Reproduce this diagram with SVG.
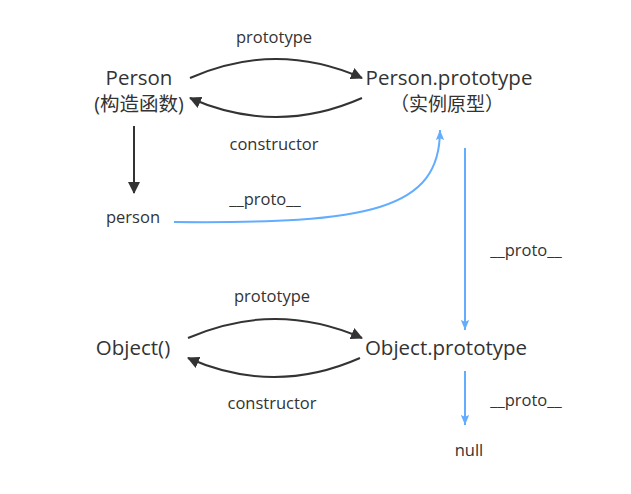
<svg xmlns="http://www.w3.org/2000/svg" width="631" height="494" viewBox="0 0 631 494">
<style>
text{font-family:"Open Sans","Noto Sans CJK SC",sans-serif;fill:#333;text-anchor:middle}
.big{font-size:20.5px}
.sm{font-size:16.5px}
.d{fill:none;stroke:#333;stroke-width:2}
.b{fill:none;stroke:#63adff;stroke-width:2}
</style>
<defs>
<marker id="ad" markerWidth="12" markerHeight="12" refX="11" refY="6" orient="auto" markerUnits="userSpaceOnUse" viewBox="0 0 12 12"><path d="M0,0 L12,6 L0,12 Z" fill="#333"/></marker>
<marker id="ab" markerWidth="10" markerHeight="14" refX="12" refY="5" orient="auto" markerUnits="userSpaceOnUse" viewBox="0 0 12 10"><path d="M0,0 L12,5 L0,10 L2,5 Z" fill="#63adff"/></marker>
</defs>
<g id="connectors">
<path class="d" d="M190,78 Q276,40 362,78" marker-end="url(#ad)"/>
<path class="d" d="M362,98 Q276,136 190,98" marker-end="url(#ad)"/>
<path class="d" d="M134,126 L134,193" marker-end="url(#ad)"/>
<path class="b" d="M174,222 C370,224 440,210 440,130" marker-end="url(#ab)"/>
<path class="b" d="M465,148 L465,330" marker-end="url(#ab)"/>
<path class="d" d="M188,338 Q275,300 362,338" marker-end="url(#ad)"/>
<path class="d" d="M360,358 Q274,396 188,358" marker-end="url(#ad)"/>
<path class="b" d="M465,371 L465,425" marker-end="url(#ab)"/>
</g>
<g id="labels">
<text class="sm" x="274" y="43">prototype</text>
<text class="sm" x="274" y="150">constructor</text>
<text class="sm" x="265" y="205">__proto__</text>
<text class="sm" x="526" y="256">__proto__</text>
<text class="sm" x="272" y="302">prototype</text>
<text class="sm" x="272" y="409">constructor</text>
<text class="sm" x="526" y="406">__proto__</text>
</g>
<g id="Person"><text class="big" x="139" y="85">Person</text><text class="big" x="139" y="111" style="font-size:19.5px">(构造函数)</text></g>
<g id="PersonPrototype"><text class="big" x="449" y="85">Person.prototype</text><text class="big" x="447" y="111" style="font-size:19px">（实例原型）</text></g>
<g id="person"><text class="sm" x="133" y="223">person</text></g>
<g id="Object"><text class="big" x="133" y="355">Object()</text></g>
<g id="ObjectPrototype"><text class="big" x="446" y="355">Object.prototype</text></g>
<g id="null"><text class="sm" x="469" y="456">null</text></g>
</svg>
